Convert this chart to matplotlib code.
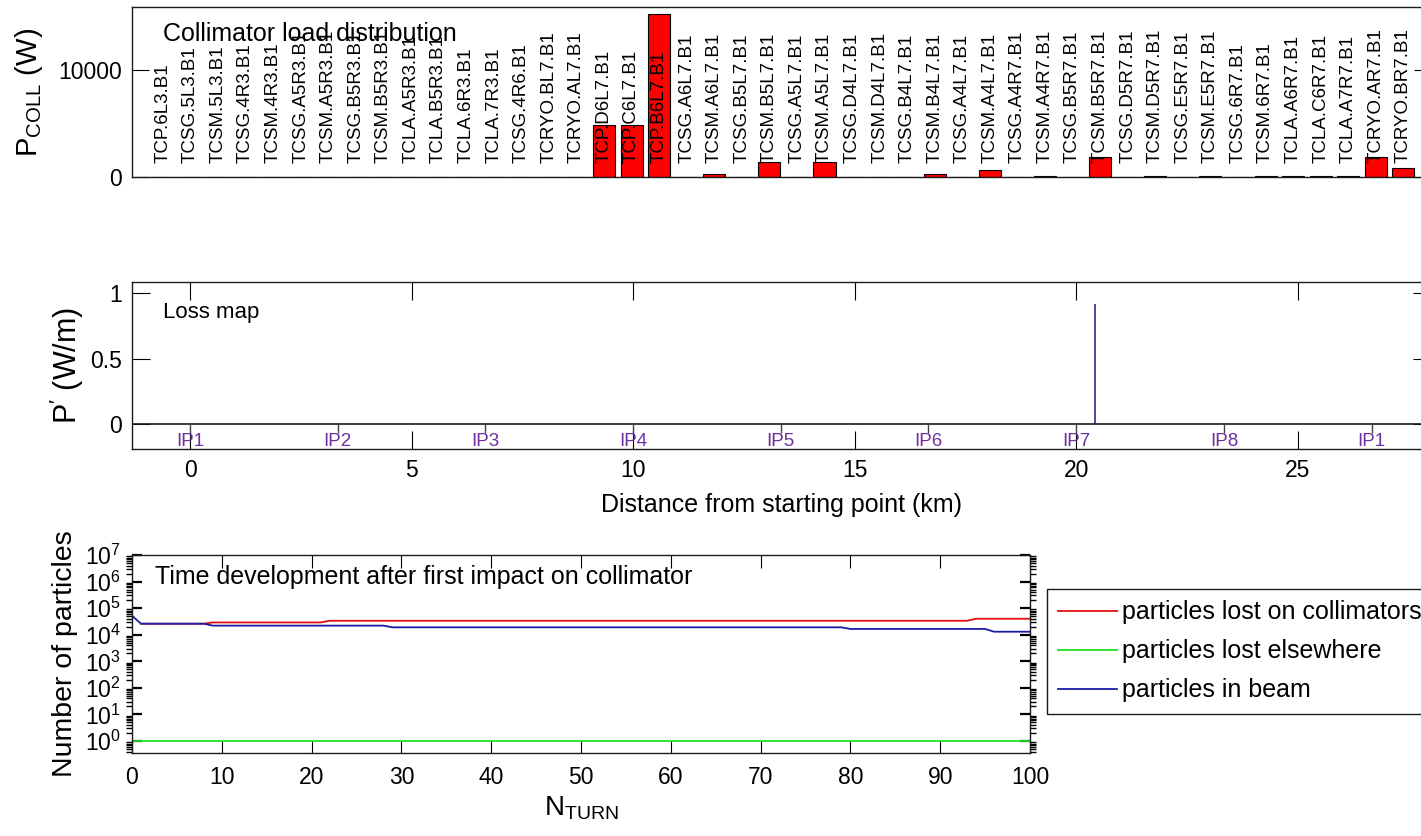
import numpy as np
import matplotlib
matplotlib.use('Agg')
import matplotlib.pyplot as plt
from matplotlib.ticker import LogLocator, NullFormatter

# collimator load distribution (W)
coll_names = ['TCP.6L3.B1', 'TCSG.5L3.B1', 'TCSM.5L3.B1', 'TCSG.4R3.B1', 'TCSM.4R3.B1',
              'TCSG.A5R3.B1', 'TCSM.A5R3.B1', 'TCSG.B5R3.B1', 'TCSM.B5R3.B1', 'TCLA.A5R3.B1',
              'TCLA.B5R3.B1', 'TCLA.6R3.B1', 'TCLA.7R3.B1', 'TCSG.4R6.B1', 'TCRYO.BL7.B1',
              'TCRYO.AL7.B1', 'TCP.D6L7.B1', 'TCP.C6L7.B1', 'TCP.B6L7.B1', 'TCSG.A6L7.B1',
              'TCSM.A6L7.B1', 'TCSG.B5L7.B1', 'TCSM.B5L7.B1', 'TCSG.A5L7.B1', 'TCSM.A5L7.B1',
              'TCSG.D4L7.B1', 'TCSM.D4L7.B1', 'TCSG.B4L7.B1', 'TCSM.B4L7.B1', 'TCSG.A4L7.B1',
              'TCSM.A4L7.B1', 'TCSG.A4R7.B1', 'TCSM.A4R7.B1', 'TCSG.B5R7.B1', 'TCSM.B5R7.B1',
              'TCSG.D5R7.B1', 'TCSM.D5R7.B1', 'TCSG.E5R7.B1', 'TCSM.E5R7.B1', 'TCSG.6R7.B1',
              'TCSM.6R7.B1', 'TCLA.A6R7.B1', 'TCLA.C6R7.B1', 'TCLA.A7R7.B1', 'TCRYO.AR7.B1',
              'TCRYO.BR7.B1']
coll_load = [0, 0, 0, 0, 0, 0, 0, 0, 0, 0,
             0, 0, 0, 0, 0, 0, 4850, 4850, 15200, 0,
             300, 0, 1400, 0, 1400, 0, 0, 0, 300, 0,
             650, 0, 100, 0, 1900, 0, 100, 0, 100, 0,
             100, 100, 100, 100, 1900, 800]

# loss map
ip_names = ['IP1', 'IP2', 'IP3', 'IP4', 'IP5', 'IP6', 'IP7', 'IP8', 'IP1']
ip_pos = [0.0, 3.33, 6.66, 10.0, 13.33, 16.66, 20.0, 23.33, 26.66]
loss_s = [20.42]
loss_val = [0.92]

# time development after first impact
turns = [0, 1, 8, 9, 21, 22, 28, 29, 79, 80, 93, 94, 95, 96, 100]
lost_coll = [np.nan, 26000, 26000, 29000, 29000, 33500, 33500, 33500,
             33500, 33500, 33500, 40000, 40000, 40000, 40000]
lost_else = [1, 1, 1, 1, 1, 1, 1, 1, 1, 1, 1, 1, 1, 1, 1]
in_beam = [52000, 26000, 26000, 22000, 22000, 22000, 22000, 19000,
           19000, 16500, 16500, 16500, 16500, 13000, 13000]

plt.rcParams['font.family'] = ['Liberation Sans', 'DejaVu Sans']
plt.rcParams['mathtext.fontset'] = 'custom'
plt.rcParams['mathtext.rm'] = 'Liberation Sans'
plt.rcParams['mathtext.default'] = 'regular'
plt.rcParams['axes.linewidth'] = 1.0
plt.rcParams['axes.edgecolor'] = '#1a1a1a'

W, H = 1421.0, 836.0


def box(l, t, r, b):
    # pixel rectangle -> figure fraction
    return [l / W, 1 - b / H, (r - l) / W, (b - t) / H]


fig = plt.figure(figsize=(14.21, 8.36), dpi=100)

# --- top: collimator loads
ax1 = fig.add_axes(box(132, 7, 1431, 177))
xb = np.arange(1, len(coll_names) + 1)
ax1.bar(xb, coll_load, width=0.8, color='#ff0000', edgecolor='black', linewidth=0.8)
for xi, name in zip(xb, coll_names):
    ax1.text(xi, 1300, name, rotation=90, ha='center', va='bottom', fontsize=13.5)
ax1.set_xlim(-0.12, len(coll_names) + 1)
ax1.set_ylim(0, 15900)
ax1.set_xticks([])
ax1.set_yticks([0, 10000])
ax1.set_yticklabels(['0', '10000'])
ax1.tick_params(axis='y', direction='in', left=True, right=True, length=12,
                labelsize=16.5, pad=7)
ax1.set_ylabel(r'$\mathregular{P_{COLL}}$ (W)', fontsize=21, labelpad=10)
ax1.text(0.024, 0.80, 'Collimator load distribution', transform=ax1.transAxes,
         fontsize=18, va='baseline')

# --- middle: loss map
ax2 = fig.add_axes(box(132, 282, 1431, 449))
ax2.vlines(loss_s, 0, loss_val, color='#2b2b8c', lw=1.2)
ax2.axhline(0, color='#1a1a1a', lw=1.2)
ax2.vlines(ip_pos, -0.065, 0, color='#444444', lw=1.0)
for p, n in zip(ip_pos, ip_names):
    ax2.text(p, -0.135, n, color='#7030a0', ha='center', va='center', fontsize=13.5)
ax2.set_xlim(-1.31, 28.0)
ax2.set_ylim(-0.19, 1.085)
ax2.set_xticks([0, 5, 10, 15, 20, 25])
ax2.set_yticks([0, 0.5, 1])
ax2.set_yticklabels(['0', '0.5', '1'])
ax2.tick_params(direction='in', top=True, right=True, length=13, labelsize=16.5)
ax2.tick_params(axis='x', pad=7)
ax2.tick_params(axis='y', pad=7)
ax2.set_xlabel('Distance from starting point (km)', fontsize=18, labelpad=8)
ax2.set_ylabel(r'P$^{\prime}$ (W/m)', fontsize=22, labelpad=3)
ax2.text(0.024, 0.784, 'Loss map', transform=ax2.transAxes, fontsize=16, va='baseline')

# --- bottom: time development
ax3 = fig.add_axes(box(132, 555, 1030, 753))
ax3.semilogy(turns, lost_coll, color='#e01010', lw=1.3, label='particles lost on collimators')
ax3.semilogy(turns, lost_else, color='#22dd22', lw=1.3, label='particles lost elsewhere')
ax3.semilogy(turns, in_beam, color='#1c1ca8', lw=1.3, label='particles in beam')
ax3.set_xlim(0, 100)
ax3.set_ylim(10 ** -0.45, 1e7)
ax3.set_xticks(np.arange(0, 101, 10))
ax3.yaxis.set_major_locator(LogLocator(base=10, subs=(1.0,), numticks=12))
ax3.yaxis.set_minor_locator(LogLocator(base=10, subs=np.arange(2, 10), numticks=12))
ax3.yaxis.set_minor_formatter(NullFormatter())
ax3.tick_params(direction='in', top=True, right=True, labelsize=16.5)
ax3.tick_params(axis='x', length=9, pad=9)
ax3.tick_params(axis='y', which='major', length=7, width=1.6, pad=8)
ax3.tick_params(axis='y', which='minor', length=4, width=1.0, left=True, right=True)
ax3.set_xlabel(r'$\mathregular{N_{TURN}}$', fontsize=20, labelpad=4)
ax3.set_ylabel('Number of particles', fontsize=20.5, labelpad=5)
ax3.text(0.026, 0.853, 'Time development after first impact on collimator',
         transform=ax3.transAxes, fontsize=18, va='baseline')

leg = ax3.legend(loc='upper left', bbox_to_anchor=(1047 / W, 1 - 589 / H),
                 bbox_transform=fig.transFigure, fontsize=18, frameon=True,
                 fancybox=False, framealpha=1, edgecolor='#1a1a1a',
                 handlelength=2.35, handletextpad=0.2, labelspacing=0.6, borderpad=0.45,
                 borderaxespad=0)
leg.get_frame().set_linewidth(1.0)

fig.savefig('out.png', dpi=100)
